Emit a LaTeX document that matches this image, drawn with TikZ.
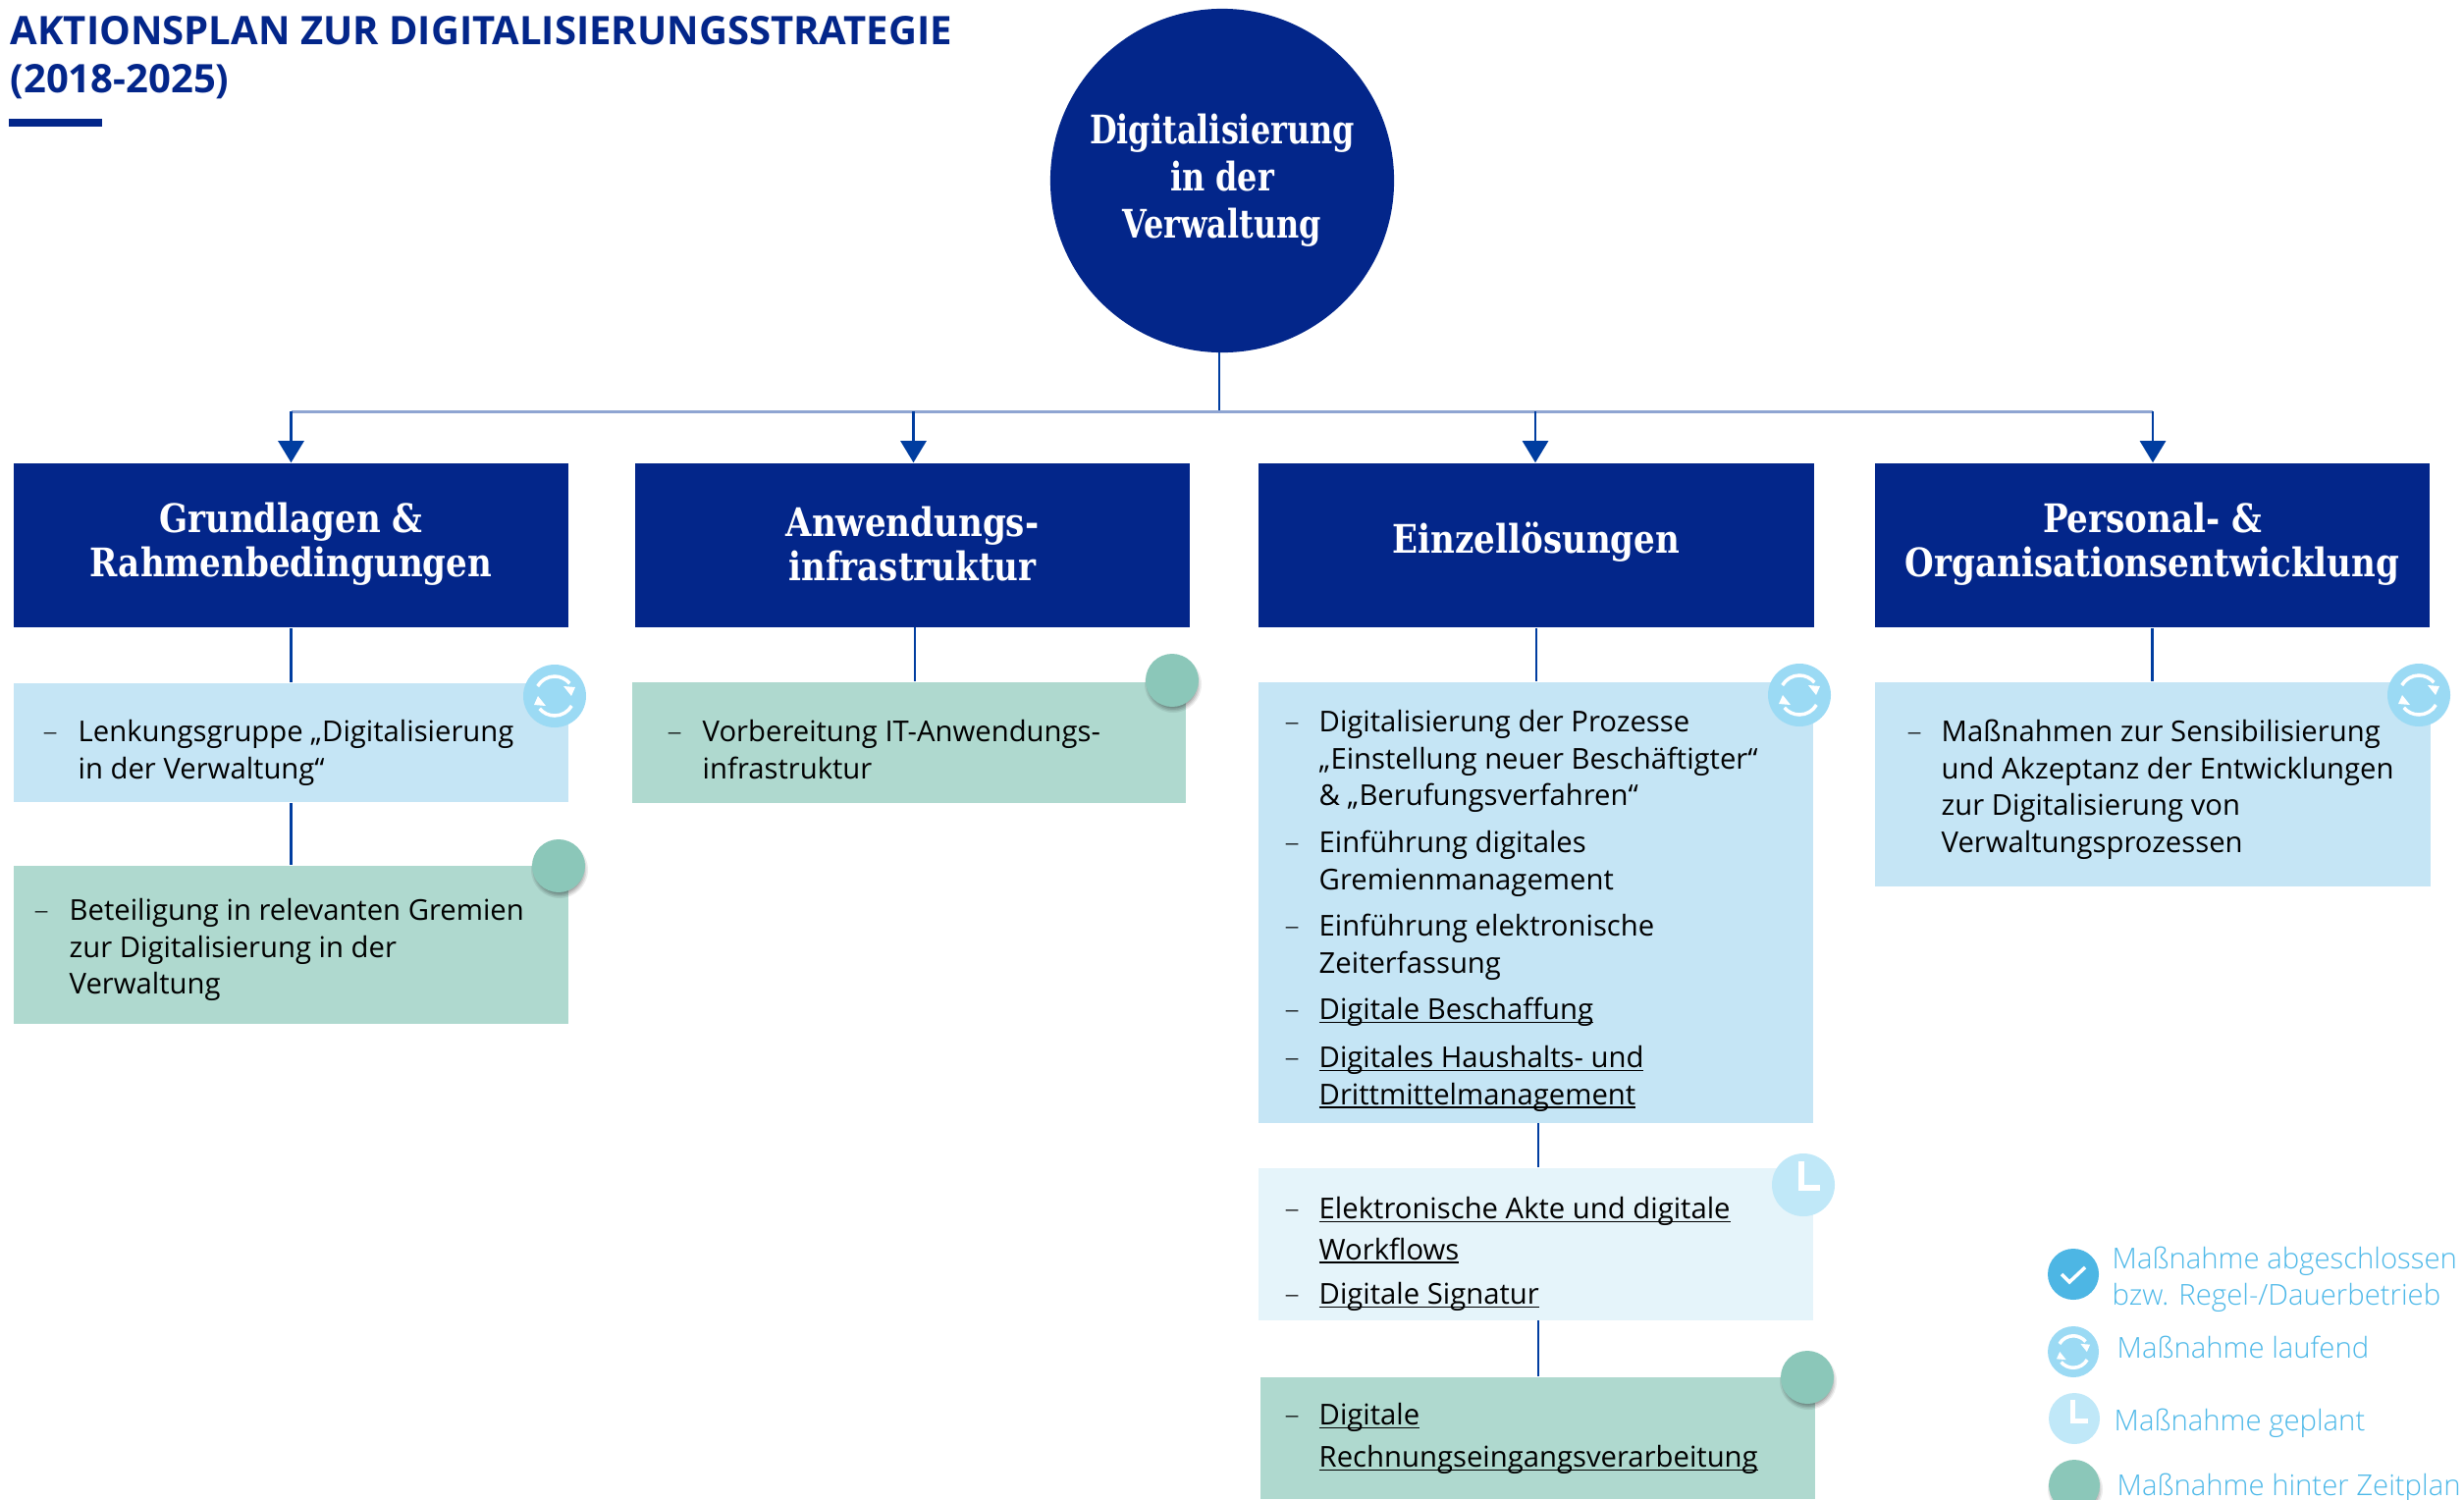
\documentclass[tikz,border=0pt]{standalone}
\usepackage{fontspec}
\usetikzlibrary{arrows.meta,calc}
\setmainfont{Open Sans}
\newfontfamily\headfont[FakeStretch=0.945]{DejaVu Serif Condensed}
\newfontfamily\rootfont[FakeStretch=0.885]{DejaVu Serif Condensed}
\newfontfamily\lightfont{Open Sans Light}
\definecolor{navy}{HTML}{03268A}
\definecolor{linkblue}{HTML}{003DA0}
\definecolor{hlineblue}{HTML}{8FA5D2}
\definecolor{subblue}{HTML}{C5E5F5}
\definecolor{subpale}{HTML}{E5F4FA}
\definecolor{subgreen}{HTML}{AFD9CF}
\definecolor{dotgreen}{HTML}{8BC7B9}
\definecolor{dotrun}{HTML}{9BDAF4}
\definecolor{dotplan}{HTML}{C0E8F8}
\definecolor{dotdone}{HTML}{4DB6E4}
\definecolor{legendtxt}{HTML}{4DB8E8}
\newcommand\ulx[1]{\leavevmode\setbox0\hbox{#1}\rlap{\rule[-0.125em]{\wd0}{0.055em}}\box0}
\newcommand\hln[1]{\raisebox{0.4pt}[\height][\depth]{#1}}
\tikzset{
  headbox/.style={fill=navy,text=white,inner sep=0,minimum width=5.65cm,minimum height=1.67cm,align=center,
    font=\headfont\bfseries\fontsize{11.4pt}{12.8pt}\selectfont},
  subbox/.style={inner sep=0},
  conn/.style={draw=linkblue,line width=0.7pt},
  arrowconn/.style={conn,-{Triangle[length=0.22cm,width=0.26cm]}},
  dashlbl/.style={anchor=base west,inner sep=0,font=\lightfont\fontsize{8.6pt}{10.67pt}\selectfont},
  itemtxt/.style={anchor=north west,inner sep=0,align=left,font=\fontsize{8.32pt}{10.67pt}\selectfont},
  legendlbl/.style={anchor=base west,inner sep=0,align=left,text=legendtxt,font=\lightfont\fontsize{8.33pt}{10.8pt}\selectfont},
  titlelbl/.style={anchor=base west,inner sep=0,text=navy,font=\bfseries\fontsize{11.38pt}{13pt}\selectfont},
}
% name, dash x, text x, first baseline, lines
\newcommand\itemrow[5]{%
  \node[dashlbl] (#1d) at (#2,#4) {–};
  \node[itemtxt] (#1) at (#3,{#4-26.3}) {\strut #5};
}
\newcommand\rect[6]{\node[subbox,fill=#2,minimum width={(#5-#3)*0.01cm},minimum height={(#6-#4)*0.01cm}] (#1) at ({(#3+#5)/2},{(#4+#6)/2}) {};}
\newcommand\greendot[4]{%
  \foreach \s/\o in {2/.07,0.5/.09,-1/.10,-2.5/.12}{
    \fill[black,opacity=\o] ({#2+1},{#3+4}) circle[radius={(#4+\s)*0.01cm}];
  }
  \node[circle,fill=dotgreen,inner sep=0,minimum size={2*#4*0.01cm}] (#1) at (#2,#3) {};
}
\newcommand\runicon[4]{%
  \node[circle,fill=dotrun,inner sep=0,minimum size={2*#4*0.01cm}] (#1) at (#2,#3) {};
  \begin{scope}[shift={(#2,#3)},x=0.01cm,y=0.01cm,scale={#4/32}]
    \draw[white,line width=1pt] (150:20) arc[start angle=150,end angle=40,radius=20];
    \fill[white] (9,10)--(21,9)--(17,0)--cycle;
    \draw[white,line width=1pt] (-30:20) arc[start angle=-30,end angle=-140,radius=20];
    \fill[white] (-9,-10)--(-21,-9)--(-17,0)--cycle;
  \end{scope}
}
\newcommand\planicon[4]{%
  \node[circle,fill=dotplan,inner sep=0,minimum size={2*#4*0.01cm}] (#1) at (#2,#3) {};
  \begin{scope}[shift={(#2,#3)},x=0.01cm,y=0.01cm,scale={#4/32}]
    \draw[white,line width=1.6pt] (-2,24)--(-2,-3)--(17,-3);
  \end{scope}
}
\begin{document}
\begin{tikzpicture}[x=0.01cm,y=-0.01cm]
\path[use as bounding box] (0,0) rectangle (2510,1527);
% title
\node[titlelbl] (title1) at (10,45) {AKTIONSPLAN ZUR DIGITALISIERUNGSSTRATEGIE};
\node[titlelbl] (title2) at (10,94) {(2018-2025)};
\fill[navy] (9,121) rectangle (104,129);
% root
\node[circle,fill=navy,text=white,inner sep=0,minimum size=3.5cm,align=center,
  font=\rootfont\bfseries\fontsize{11.4pt}{13.66pt}\selectfont] (root) at (1245,184)
  {Digitalisierung\\in der\\Verwaltung};
% heads
\node[headbox] (h1) at (296.5,555.5) {\hln{Grundlagen \&}\\\hln{Rahmenbedingungen}};
\node[headbox] (h2) at (929.5,555.5) {\hln{Anwendungs-}\\\hln{infrastruktur}};
\node[headbox] (h3) at (1565,555.5) {\raisebox{0.9pt}[\height][\depth]{Einzellösungen}};
\node[headbox] (h4) at (2192.5,555.5) {\hln{Personal- \&}\\\hln{Organisationsentwicklung}};
% sub boxes
\rect{s1}{subblue}{14}{696}{579}{817}
\rect{s1b}{subgreen}{14}{882}{579}{1043}
\rect{s2}{subgreen}{644}{695}{1208}{818}
\rect{s3}{subblue}{1282}{695}{1847}{1144}
\rect{s3b}{subpale}{1282}{1190}{1847}{1345}
\rect{s3c}{subgreen}{1284}{1403}{1849}{1527}
\rect{s4}{subblue}{1910}{695}{2476}{903}
% connectors
\coordinate (jt) at (1242,359);
\coordinate (j0) at (1242,419);
\coordinate (j1) at (296.5,419);
\coordinate (j2) at (930.5,419);
\coordinate (j3) at (1564,419);
\coordinate (j4) at (2193,419);
\draw[conn,line width=0.8pt] (jt) -- (j0);
\draw[draw=hlineblue,line width=0.85pt] (j1) -- (j4);
\draw[arrowconn] (j1) -- (j1 |- h1.north);
\draw[arrowconn] (j2) -- (j2 |- h2.north);
\draw[arrowconn] (j3) -- (j3 |- h3.north);
\draw[arrowconn] (j4) -- (j4 |- h4.north);
\draw[conn] (h1.south) -- (h1.south |- s1.north);
\draw[conn] (s1.south) -- (s1.south |- s1b.north);
\coordinate (c2) at (932,639);
\draw[conn] (c2) -- (c2 |- s2.north);
\draw[conn] (h3.south) -- (h3.south |- s3.north);
\coordinate (c3) at (1567,1144);
\draw[conn] (c3) -- (c3 |- s3b.north);
\coordinate (c3b) at (1567,1345);
\draw[conn] (c3b) -- (c3b |- s3c.north);
\draw[conn] (h4.south) -- (h4.south |- s4.north);
% texts
\itemrow{t1}{43}{79}{755}{Lenkungsgruppe „Digitalisierung\\in der Verwaltung“}
\itemrow{t1b}{34}{70}{937}{Beteiligung in relevanten Gremien\\zur Digitalisierung in der\\Verwaltung}
\itemrow{t2}{679}{715}{755}{Vorbereitung IT-Anwendungs-\\infrastruktur}
\itemrow{t3a}{1308}{1343}{745}{Digitalisierung der Prozesse\\„Einstellung neuer Beschäftigter“\\\& „Berufungsverfahren“}
\itemrow{t3b}{1308}{1343}{868}{Einführung digitales\\Gremienmanagement}
\itemrow{t3c}{1308}{1343}{953}{Einführung elektronische\\Zeiterfassung}
\itemrow{t3d}{1308}{1343}{1038}{\ulx{Digitale Beschaffung}}
\itemrow{t3e}{1308}{1343}{1087}{\ulx{Digitales Haushalts- und}\\\ulx{Drittmittelmanagement}}
\itemrow{t3f}{1308}{1343}{1241}{\ulx{Elektronische Akte und digitale}\\[1.1pt]\ulx{Workflows}}
\itemrow{t3g}{1308}{1343}{1328}{\ulx{Digitale Signatur}}
\itemrow{t3h}{1308}{1343}{1451}{\ulx{Digitale}\\[1.5pt]\ulx{Rechnungseingangsverarbeitung}}
\itemrow{t4}{1942}{1977}{755}{Maßnahmen zur Sensibilisierung\\und Akzeptanz der Entwicklungen\\zur Digitalisierung von\\Verwaltungsprozessen}
% status icons
\runicon{i1}{565}{709}{32}
\greendot{i1b}{569}{882}{27}
\greendot{i2}{1194}{693}{27}
\runicon{i3}{1833}{708}{32}
\planicon{i3b}{1837}{1207}{32}
\greendot{i3c}{1841}{1403}{27}
\runicon{i4}{2464}{708}{32}
% legend
\node[circle,fill=dotdone,inner sep=0,minimum size=0.52cm] (l1) at (2112,1298) {};
\draw[white,line width=1pt] (2100,1298)--(2108,1306)--(2124,1291);
\runicon{l2}{2112}{1377}{26}
\planicon{l3}{2113}{1445}{26}
\greendot{l4}{2113}{1513}{26}
\node[legendlbl,anchor=north west] (lt1) at (2151,{1291-26.3}) {\strut Maßnahme abgeschlossen\\bzw. Regel-/Dauerbetrieb};
\node[legendlbl] (lt2) at (2156,1383) {Maßnahme laufend};
\node[legendlbl] (lt3) at (2153,1457) {Maßnahme geplant};
\node[legendlbl] (lt4) at (2156,1523) {Maßnahme hinter Zeitplan};
\end{tikzpicture}
\end{document}
